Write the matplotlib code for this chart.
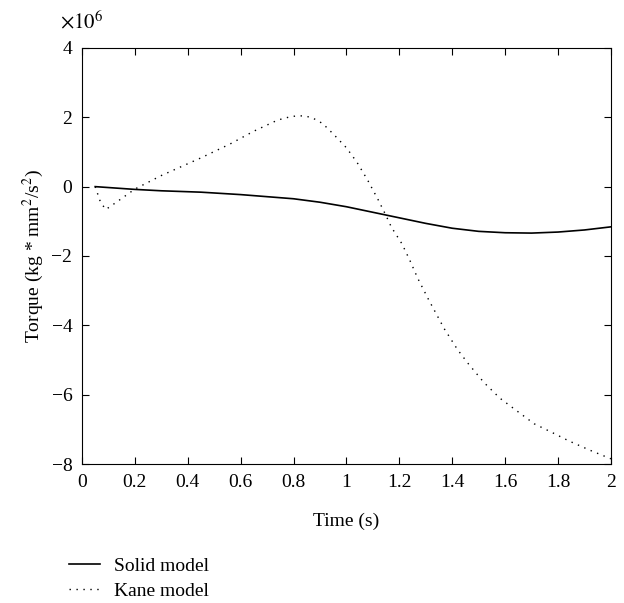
import numpy as np
import matplotlib.pyplot as plt
from matplotlib.ticker import FuncFormatter

plt.rcParams['font.family'] = 'Liberation Serif'
plt.rcParams['mathtext.fontset'] = 'stix'

# Data (torque in units of 1e6 kg*mm^2/s^2)
t_solid = [0.05, 0.2, 0.3, 0.45, 0.6, 0.7, 0.8, 0.9, 1.0, 1.1, 1.2, 1.3, 1.4,
           1.5, 1.6, 1.7, 1.8, 1.9, 2.0]
solid = [0.0, -0.08, -0.12, -0.16, -0.23, -0.29, -0.35, -0.45, -0.58, -0.74,
         -0.9, -1.06, -1.2, -1.29, -1.33, -1.34, -1.31, -1.25, -1.16]

t_kane = [0.05, 0.07, 0.09, 0.13, 0.2, 0.3, 0.45, 0.56, 0.65, 0.74, 0.78, 0.81,
          0.84, 0.87, 0.91, 0.95, 1.0, 1.04, 1.08, 1.12, 1.15, 1.17, 1.21, 1.24,
          1.27, 1.31, 1.37, 1.42, 1.46, 1.52, 1.58, 1.65, 1.71, 1.78, 1.84,
          1.92, 2.0]
kane = [0.0, -0.45, -0.66, -0.45, -0.07, 0.32, 0.83, 1.23, 1.6, 1.92, 2.0,
        2.04, 2.04, 1.99, 1.82, 1.52, 1.12, 0.7, 0.19, -0.38, -0.84, -1.17,
        -1.65, -2.13, -2.65, -3.25, -4.1, -4.7, -5.1, -5.65, -6.1, -6.5, -6.84,
        -7.1, -7.33, -7.6, -7.85]

xtick_labels = ['0', '0.2', '0.4', '0.6', '0.8', '1', '1.2', '1.4', '1.6', '1.8', '2']

fig = plt.figure(figsize=(6.24, 6.03), dpi=100)
ax = fig.add_axes([0.1314, 0.2305, 0.8476, 0.69])

ax.plot(t_solid, np.array(solid) * 1e6, color='black', lw=1.2, label='Solid model')
ax.plot(t_kane, np.array(kane) * 1e6, color='black', lw=1.0,
        linestyle=(0, (1, 4)), label='Kane model')

ax.set_xlim(0, 2)
ax.set_ylim(-8e6, 4e6)
ax.set_xticks(np.arange(0, 2.01, 0.2))
ax.set_xticklabels(xtick_labels)
ax.set_yticks(np.arange(-8e6, 4.1e6, 2e6))
ax.yaxis.set_major_formatter(FuncFormatter(lambda v, p: f'{v/1e6:.0f}'.replace('-', '\u2212')))
ax.text(-0.042, 1.035, r'$\times10^{6}$', transform=ax.transAxes, fontsize=15,
        ha='left', va='bottom')

ax.tick_params(direction='in', top=True, right=True, labelsize=14, length=5,
               width=0.8, pad=7)
for s in ax.spines.values():
    s.set_linewidth(0.8)

ax.set_xlabel('Time (s)', fontsize=14, labelpad=16)
ax.set_ylabel('Torque (kg * mm$^2$/s$^2$)', fontsize=14, labelpad=4)

fig.legend(loc='upper left', bbox_to_anchor=(0.083, 0.105), frameon=False,
           fontsize=14, handlelength=1.6, handletextpad=0.7, labelspacing=0.4)

fig.savefig('out.png', dpi=100)
